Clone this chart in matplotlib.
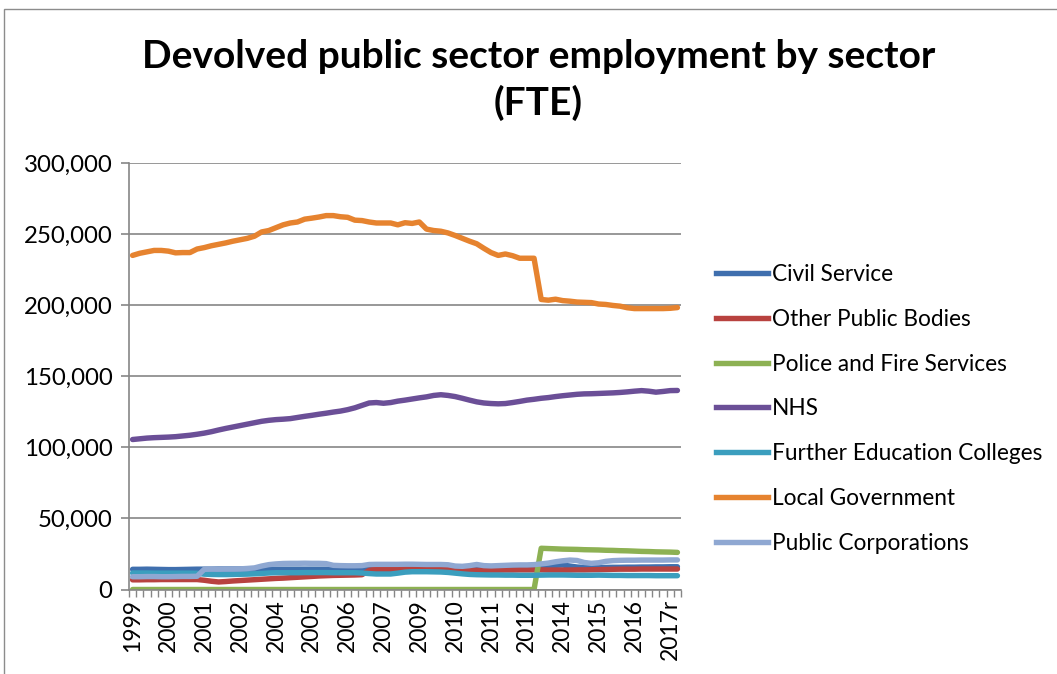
import matplotlib
matplotlib.use("Agg")
import matplotlib.pyplot as plt
from matplotlib.ticker import FuncFormatter, FixedLocator
from matplotlib.patches import Rectangle
from matplotlib.lines import Line2D

plt.rcParams['font.family'] = ['Lato', 'DejaVu Sans']

# ---------------- data (thousands FTE, quarterly, 77 categories) ----------------
tick_labels = ['1999', '2000', '2001', '2002', '2004', '2005', '2006', '2007',
               '2009', '2010', '2011', '2012', '2014', '2015', '2016', '2017r']
label_step = 5

civil_service = [
    14.2, 14.2, 14.3, 14.2, 14.1, 14.0, 14.0, 14.1, 14.2, 14.3,
    14.3, 14.3, 14.4, 14.4, 14.4, 14.4, 14.4, 14.3, 14.3, 14.3,
    14.3, 14.3, 14.3, 14.3, 14.3, 14.3, 14.3, 14.3, 14.2, 14.2,
    14.2, 14.2, 14.1, 14.1, 14.0, 14.0, 14.0, 14.1, 14.2, 14.3,
    14.4, 14.6, 14.8, 15.0, 15.2, 15.3, 15.3, 15.3, 15.3, 15.3,
    15.0, 15.0, 15.1, 15.2, 15.3, 15.4, 15.5, 15.8, 16.5, 17.0,
    17.2, 16.5, 15.8, 15.5, 15.4, 15.4, 15.5, 15.6, 15.6, 15.7,
    15.7, 15.8, 15.8, 15.9, 15.9, 16.0, 16.0]

other_public_bodies = [
    6.8, 6.8, 6.9, 6.9, 7.0, 7.0, 7.0, 7.0, 7.0, 7.0,
    6.5, 5.8, 5.3, 5.6, 6.0, 6.3, 6.6, 6.9, 7.2, 7.5,
    7.8, 8.0, 8.3, 8.6, 8.9, 9.2, 9.5, 9.7, 9.9, 10.0,
    10.1, 10.2, 10.4, 13.5, 14.3, 14.3, 14.3, 14.4, 14.4, 14.4,
    14.4, 14.3, 14.3, 14.2, 14.1, 14.0, 13.8, 13.6, 13.5, 13.5,
    13.6, 13.6, 13.7, 13.7, 13.8, 13.8, 13.8, 13.8, 13.7, 13.7,
    13.7, 13.7, 13.8, 13.8, 13.9, 14.0, 14.1, 14.2, 14.3, 14.3,
    14.3, 14.4, 14.4, 14.4, 14.4, 14.4, 14.4]

police_fire = [
    0, 0, 0, 0, 0, 0, 0, 0, 0, 0,
    0, 0, 0, 0, 0, 0, 0, 0, 0, 0,
    0, 0, 0, 0, 0, 0, 0, 0, 0, 0,
    0, 0, 0, 0, 0, 0, 0, 0, 0, 0,
    0, 0, 0, 0, 0, 0, 0, 0, 0, 0,
    0, 0, 0, 0, 0, 0, 0, 29.0, 28.8, 28.6,
    28.4, 28.3, 28.2, 28.0, 27.9, 27.8, 27.6, 27.5, 27.3, 27.2,
    27.0, 26.8, 26.7, 26.5, 26.4, 26.3, 26.1]

nhs = [
    105.5, 106.0, 106.5, 106.8, 107.0, 107.2, 107.5, 108.0, 108.5, 109.2,
    110.0, 111.0, 112.2, 113.3, 114.3, 115.3, 116.3, 117.3, 118.3, 119.0,
    119.5, 119.8, 120.2, 121.0, 121.8, 122.5, 123.3, 124.0, 124.8, 125.5,
    126.5, 127.8, 129.5, 131.2, 131.5, 131.0, 131.5, 132.5, 133.2, 134.0,
    134.8, 135.5, 136.5, 137.0, 136.5, 135.7, 134.5, 133.2, 132.0, 131.2,
    130.8, 130.6, 130.8, 131.5, 132.3, 133.2, 133.8, 134.5, 135.0, 135.7,
    136.3, 136.8, 137.3, 137.6, 137.7, 137.9, 138.1, 138.3, 138.6, 139.0,
    139.5, 139.9, 139.5, 138.8, 139.3, 139.9, 140.0]

fe_colleges = [
    11.6, 11.6, 11.6, 11.5, 11.5, 11.5, 11.5, 11.5, 11.5, 11.4,
    10.8, 10.6, 10.5, 10.5, 10.6, 10.7, 10.8, 11.0, 11.3, 11.6,
    11.8, 11.8, 11.8, 11.8, 11.9, 11.9, 11.9, 11.9, 11.8, 11.8,
    11.8, 11.8, 11.6, 11.2, 10.9, 10.9, 10.9, 11.5, 12.2, 12.5,
    12.5, 12.5, 12.4, 12.3, 12.0, 11.5, 11.0, 10.6, 10.4, 10.3,
    10.2, 10.2, 10.1, 10.1, 10.0, 10.0, 10.0, 10.1, 10.2, 10.2,
    10.2, 10.1, 10.0, 10.0, 10.0, 10.1, 10.0, 9.9, 9.9, 9.8,
    9.8, 9.8, 9.8, 9.7, 9.7, 9.7, 9.7]

local_government = [
    235.0, 236.5, 237.5, 238.5, 238.5, 238.0, 236.8, 237.0, 237.0, 239.5,
    240.5, 241.8, 242.8, 243.8, 245.0, 246.0, 247.0, 248.5, 251.5, 252.5,
    254.5, 256.5, 257.8, 258.5, 260.5, 261.2, 262.0, 263.0, 263.0, 262.2,
    261.8, 259.8, 259.5, 258.5, 257.8, 257.8, 257.8, 256.5, 258.0, 257.5,
    258.5, 253.5, 252.5, 252.0, 250.8, 249.0, 247.0, 245.0, 243.2, 240.0,
    237.0, 235.0, 236.0, 234.8, 233.0, 233.0, 233.0, 204.0, 203.5, 204.2,
    203.2, 202.8, 202.2, 202.0, 201.8, 200.8, 200.5, 199.8, 199.3, 198.2,
    197.6, 197.6, 197.6, 197.6, 197.6, 197.8, 198.3]

public_corporations = [
    9.0, 9.0, 9.1, 9.1, 9.0, 9.0, 9.1, 9.2, 9.2, 9.3,
    14.2, 14.3, 14.3, 14.4, 14.4, 14.5, 14.8, 15.2, 16.5, 17.5,
    18.0, 18.3, 18.4, 18.4, 18.5, 18.4, 18.4, 18.2, 17.0, 16.8,
    16.7, 16.7, 16.8, 17.6, 17.7, 17.7, 17.7, 17.7, 17.8, 17.8,
    17.7, 17.6, 17.6, 17.6, 17.4, 16.5, 16.3, 16.8, 17.6, 16.8,
    16.6, 16.8, 17.0, 17.2, 17.3, 17.3, 17.5, 18.0, 18.6, 19.5,
    20.2, 20.7, 20.4, 19.0, 18.4, 18.8, 19.8, 20.3, 20.5, 20.6,
    20.6, 20.7, 20.7, 20.7, 20.7, 20.8, 20.8]

series_names = ['Civil Service', 'Other Public Bodies', 'Police and Fire Services',
                'NHS', 'Further Education Colleges', 'Local Government',
                'Public Corporations']
series_values = [civil_service, other_public_bodies, police_fire, nhs,
                 fe_colleges, local_government, public_corporations]
series_colors = ['#3F6FAE', '#B8423F', '#8DB153', '#6B4F97', '#3B9EBE',
                 '#E6832F', '#8FA8D2']

# ---------------- figure ----------------
W, H = 1057, 674
fig = plt.figure(figsize=(W / 100, H / 100), dpi=100)
fig.patch.set_facecolor('white')

# chart border
fig.patches.append(Rectangle((4 / W, -0.01), 1.2, 1 - 9 / H + 0.01,
                             transform=fig.transFigure, fill=False,
                             edgecolor='#8C8C8C', linewidth=1.0))

ax_l, ax_r, ax_b, ax_t = 129, 681, 589.5, 163
ax = fig.add_axes([ax_l / W, 1 - ax_b / H, (ax_r - ax_l) / W, (ax_b - ax_t) / H])

n = len(civil_service)
x = list(range(n))
for name, vals, col in zip(series_names, series_values, series_colors):
    ax.plot(x, vals, color=col, lw=3.9, solid_capstyle='round',
            solid_joinstyle='round', label=name)

ax.set_xlim(-0.5, n - 0.5)
ax.set_ylim(0, 300)
ax.yaxis.set_major_locator(FixedLocator([0, 50, 100, 150, 200, 250, 300]))
ax.yaxis.set_major_formatter(FuncFormatter(lambda v, p: f"{int(round(v * 1000)):,}"))
ax.grid(axis='y', color='#868686', lw=1.2)
ax.set_axisbelow(True)

ax.set_xticks(list(range(0, n, label_step)))
ax.set_xticklabels(tick_labels, rotation=90)
ax.set_xticks([i - 0.5 for i in range(n + 1)], minor=True)
ax.tick_params(axis='x', which='major', length=0, pad=7, labelsize=16.5)
ax.tick_params(axis='x', which='minor', length=5, width=1.0, color='#868686', direction='out')
ax.tick_params(axis='y', which='major', length=6, width=1.2, color='#868686', pad=6, labelsize=17.3)

for side in ['top', 'right']:
    ax.spines[side].set_visible(False)
for side in ['left', 'bottom']:
    ax.spines[side].set_color('#868686')
    ax.spines[side].set_linewidth(1.2)

# title
fig.text(538.5 / W, 1 - 57 / H, 'Devolved public sector employment by sector',
         ha='center', va='center', fontsize=28, fontweight='bold')
fig.text(538.5 / W, 1 - 103 / H, '(FTE)',
         ha='center', va='center', fontsize=28, fontweight='bold')

leg_handles = [Line2D([], [], color=c, lw=3.9) for c in series_colors]
fig.legend(leg_handles, series_names, loc='upper left',
           bbox_to_anchor=(716 / W, 1 - 264 / H), frameon=False,
           fontsize=16.3, handlelength=2.3, handletextpad=0.18,
           labelspacing=1.05, borderpad=0, borderaxespad=0)

fig.savefig('out.png', dpi=100, facecolor='white')
